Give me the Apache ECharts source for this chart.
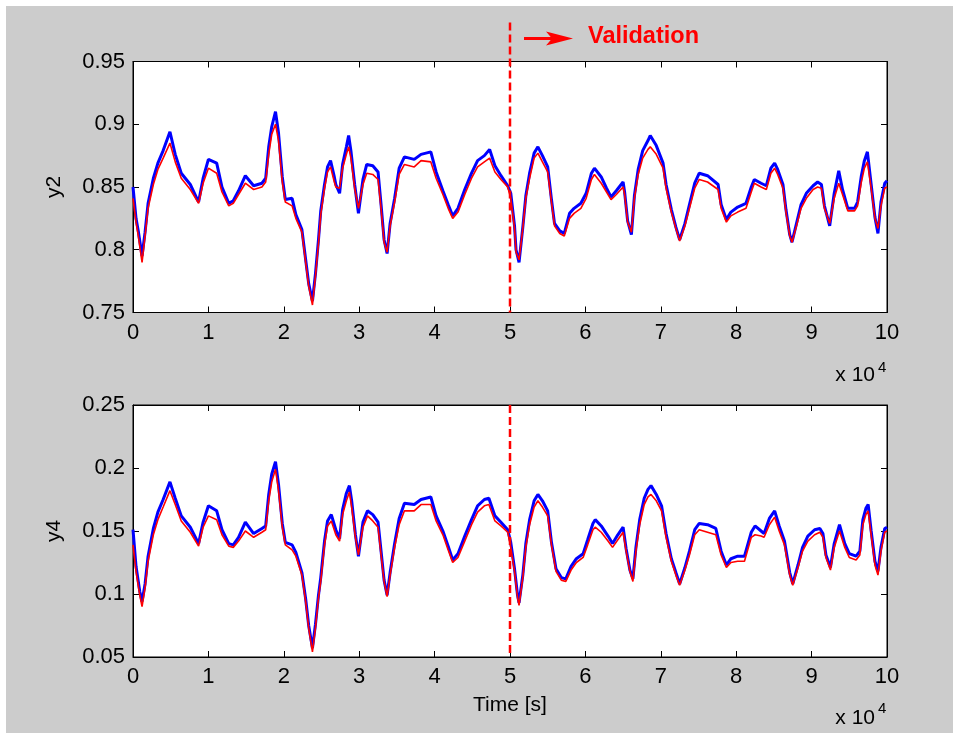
<!DOCTYPE html>
<html>
<head>
<meta charset="utf-8">
<script src="https://cdn.jsdelivr.net/npm/echarts@6/dist/echarts.min.js"></script>
<style>html,body{margin:0;padding:0;background:#fff}#c{width:968px;height:733px}</style>
</head>
<body>
<div id="c"></div>
<script>
// ---------- DATA ----------
const xTickLabels = ['0','1','2','3','4','5','6','7','8','9','10'];
const xScaleLabel = 'x 10';
const xScaleExp = '4';
const validationStart = 50000;
const validationText = 'Validation';
const xAxisName = 'Time [s]';
const y2Name = 'y2';
const y4Name = 'y4';

const y2Time = [
  0,400,700,1200,1600,2000,2700,3300,4000,4900,
  5600,6400,7600,8700,9300,10000,11100,11800,12700,13300,
  14000,14900,16000,17100,17600,18000,18400,18900,19300,19800,
  20200,21100,21600,22400,22900,23300,23800,24200,24600,24900,
  25400,25800,26200,26700,26900,27400,27800,28300,28600,28900,
  29400,29900,30500,31000,31800,32500,32900,33300,33700,34100,
  34700,35300,36000,37300,38200,39500,40200,41100,41800,42400,
  43100,44000,44900,45700,46600,47300,48000,48800,49700,50100,
  50600,50800,51200,51700,52100,52600,53200,53700,54300,55000,
  55500,55900,56600,57200,57900,58500,59400,60100,60800,61200,
  62100,62800,63400,64100,65000,65200,65600,66100,66500,67000,
  67600,68300,68600,69400,70300,70700,71400,72000,72500,73200,
  73800,74500,75100,76200,77600,78000,78700,79300,80200,81300,
  82000,82400,83300,84000,84600,85100,85500,86200,86600,87100,
  87400,88000,88600,89300,90200,90800,91300,91700,92400,93000,
  93600,94100,94800,95700,96100,96600,97000,97400,97900,98400,
  98800,99200,99700,100000
];
const y2Model = [
  0.841,0.822,0.811,0.790,0.811,0.833,0.852,0.864,0.873,0.885,
  0.870,0.857,0.848,0.837,0.853,0.865,0.861,0.846,0.835,0.837,
  0.844,0.853,0.848,0.850,0.854,0.876,0.892,0.900,0.887,0.854,
  0.838,0.835,0.825,0.814,0.790,0.771,0.756,0.779,0.805,0.828,
  0.849,0.862,0.866,0.854,0.850,0.849,0.865,0.876,0.882,0.873,
  0.849,0.833,0.852,0.861,0.860,0.856,0.833,0.806,0.798,0.819,
  0.838,0.860,0.868,0.866,0.871,0.870,0.857,0.844,0.833,0.825,
  0.830,0.844,0.857,0.866,0.870,0.873,0.862,0.856,0.850,0.841,
  0.817,0.798,0.792,0.817,0.841,0.857,0.873,0.877,0.870,0.862,
  0.838,0.819,0.813,0.811,0.825,0.829,0.833,0.841,0.856,0.860,
  0.853,0.846,0.840,0.844,0.850,0.844,0.822,0.814,0.841,0.860,
  0.873,0.880,0.882,0.876,0.865,0.849,0.830,0.817,0.807,0.819,
  0.833,0.849,0.856,0.854,0.848,0.833,0.822,0.827,0.830,0.833,
  0.846,0.853,0.850,0.848,0.861,0.865,0.860,0.849,0.830,0.811,
  0.806,0.819,0.833,0.841,0.848,0.850,0.849,0.833,0.821,0.841,
  0.853,0.844,0.831,0.831,0.835,0.854,0.865,0.870,0.849,0.825,
  0.817,0.835,0.849,0.850
];
const y2Measured = [
  0.850,0.825,0.815,0.795,0.814,0.837,0.857,0.869,0.879,0.894,
  0.876,0.861,0.852,0.838,0.857,0.872,0.869,0.850,0.837,0.839,
  0.847,0.859,0.851,0.853,0.857,0.882,0.898,0.910,0.893,0.858,
  0.840,0.841,0.828,0.816,0.792,0.773,0.759,0.781,0.808,0.831,
  0.852,0.866,0.871,0.858,0.852,0.845,0.868,0.882,0.891,0.879,
  0.852,0.829,0.856,0.868,0.867,0.862,0.836,0.808,0.797,0.821,
  0.841,0.865,0.874,0.872,0.876,0.878,0.862,0.847,0.836,0.827,
  0.833,0.848,0.861,0.871,0.875,0.880,0.867,0.859,0.851,0.845,
  0.819,0.800,0.790,0.818,0.843,0.861,0.877,0.882,0.875,0.866,
  0.840,0.821,0.815,0.813,0.829,0.833,0.837,0.845,0.861,0.865,
  0.858,0.849,0.842,0.847,0.854,0.846,0.823,0.812,0.843,0.864,
  0.879,0.887,0.891,0.883,0.869,0.852,0.832,0.818,0.808,0.821,
  0.836,0.853,0.861,0.859,0.852,0.836,0.824,0.830,0.834,0.837,
  0.850,0.856,0.853,0.851,0.865,0.869,0.864,0.852,0.832,0.812,
  0.806,0.821,0.836,0.845,0.851,0.854,0.852,0.835,0.819,0.845,
  0.863,0.848,0.833,0.833,0.838,0.859,0.871,0.878,0.852,0.826,
  0.813,0.838,0.853,0.855
];

const y4Time = [
  0,400,900,1200,1600,2000,2700,3300,4000,4900,
  5600,6400,7600,8700,9300,10000,11100,11800,12700,13300,
  14000,14900,16000,17100,17600,18000,18400,18900,19300,19800,
  20200,21100,21600,22400,22900,23300,23800,24200,24600,24900,
  25400,25800,26300,26900,27400,27800,28300,28700,29000,29500,
  29900,30500,31100,31800,32500,32900,33300,33700,34100,34700,
  35300,36000,37300,38200,39500,40200,41100,41800,42400,43100,
  44000,44900,45700,46600,47200,48000,48800,49700,50100,50600,
  51000,51200,51700,52100,52600,53200,53700,54300,55000,55500,
  56100,56800,57400,58100,58800,59700,60300,61000,61300,62100,
  63000,63600,64300,65000,65400,65900,66300,66700,67200,67800,
  68300,68700,69400,70100,70700,71400,72000,72500,73200,73800,
  74500,75100,76200,77300,78000,78700,79300,80200,81100,82000,
  82500,83300,83700,84400,85100,85700,86400,87100,87500,88200,
  88800,89500,90400,91100,91500,91900,92500,93000,93700,94400,
  95000,95900,96400,96800,97200,97500,97900,98400,98800,99200,
  99700,100000
];
const y4Model = [
  0.139,0.118,0.099,0.090,0.105,0.126,0.147,0.159,0.169,0.182,
  0.171,0.158,0.149,0.138,0.153,0.162,0.159,0.147,0.138,0.137,
  0.142,0.150,0.145,0.149,0.151,0.174,0.189,0.199,0.182,0.153,
  0.139,0.135,0.130,0.115,0.094,0.073,0.054,0.073,0.097,0.110,
  0.139,0.154,0.158,0.147,0.142,0.163,0.174,0.181,0.169,0.145,
  0.131,0.153,0.162,0.158,0.153,0.131,0.110,0.098,0.115,0.137,
  0.155,0.166,0.166,0.171,0.171,0.158,0.147,0.135,0.125,0.129,
  0.142,0.155,0.165,0.170,0.171,0.158,0.154,0.149,0.137,0.118,
  0.097,0.091,0.113,0.137,0.155,0.169,0.174,0.169,0.162,0.139,
  0.118,0.111,0.110,0.119,0.125,0.129,0.139,0.151,0.153,0.149,
  0.142,0.137,0.143,0.149,0.134,0.118,0.110,0.134,0.155,0.171,
  0.177,0.179,0.174,0.166,0.145,0.126,0.115,0.107,0.119,0.131,
  0.147,0.151,0.149,0.147,0.131,0.121,0.125,0.126,0.126,0.145,
  0.147,0.146,0.145,0.155,0.161,0.150,0.139,0.115,0.107,0.121,
  0.134,0.142,0.147,0.149,0.145,0.129,0.119,0.137,0.150,0.137,
  0.129,0.127,0.131,0.155,0.163,0.166,0.147,0.123,0.115,0.134,
  0.149,0.150
];
const y4Measured = [
  0.151,0.122,0.102,0.094,0.108,0.130,0.152,0.165,0.175,0.189,
  0.176,0.162,0.153,0.140,0.157,0.170,0.166,0.151,0.140,0.139,
  0.145,0.157,0.148,0.152,0.154,0.179,0.195,0.205,0.187,0.156,
  0.141,0.139,0.133,0.117,0.096,0.075,0.057,0.076,0.099,0.113,
  0.142,0.158,0.163,0.151,0.144,0.167,0.180,0.186,0.174,0.147,
  0.130,0.157,0.166,0.163,0.157,0.134,0.111,0.099,0.117,0.140,
  0.160,0.172,0.171,0.175,0.177,0.162,0.150,0.138,0.127,0.132,
  0.146,0.159,0.170,0.175,0.176,0.162,0.157,0.151,0.141,0.120,
  0.099,0.093,0.115,0.140,0.159,0.174,0.179,0.174,0.166,0.141,
  0.120,0.113,0.112,0.122,0.128,0.132,0.143,0.156,0.159,0.154,
  0.146,0.140,0.147,0.153,0.136,0.119,0.112,0.137,0.159,0.176,
  0.183,0.186,0.179,0.170,0.148,0.128,0.117,0.108,0.121,0.134,
  0.151,0.156,0.155,0.152,0.134,0.123,0.128,0.130,0.130,0.149,
  0.154,0.150,0.148,0.160,0.166,0.154,0.142,0.117,0.108,0.123,
  0.137,0.146,0.151,0.152,0.148,0.131,0.121,0.140,0.155,0.140,
  0.132,0.130,0.134,0.159,0.168,0.171,0.150,0.126,0.118,0.137,
  0.152,0.153
];

// ---------- CHART ----------
const FONT = '"Liberation Sans", Arial, Helvetica, sans-serif';
const pair = (t, v) => t.map((x, i) => [x, v[i]]).filter(p => p[1] !== undefined);

function xAxes(g) {
  const base = {
    gridIndex: g, type: 'value', min: 0, max: 100000, interval: 10000,
    axisLine: { show: true, onZero: false, lineStyle: { color: '#000', width: 1 } },
    axisTick: { show: true, inside: true, length: 6, lineStyle: { color: '#000' } },
    splitLine: { show: false }
  };
  return [
    Object.assign({}, base, {
      position: 'bottom',
      axisLabel: { show: true, margin: 9, fontSize: 22, color: '#000', fontFamily: FONT,
        formatter: v => xTickLabels[Math.round(v / 10000)] },
      name: g === 1 ? xAxisName : '', nameLocation: 'middle', nameGap: 38,
      nameTextStyle: { fontSize: 21, color: '#000', fontFamily: FONT }
    }),
    Object.assign({}, base, { position: 'top', axisLabel: { show: false } })
  ];
}
function yAxes(g, min, max, name) {
  const base = {
    gridIndex: g, type: 'value', min: min, max: max, interval: 0.05,
    axisLine: { show: true, onZero: false, lineStyle: { color: '#000', width: 1 } },
    axisTick: { show: true, inside: true, length: 6, lineStyle: { color: '#000' } },
    splitLine: { show: false }
  };
  return [
    Object.assign({}, base, {
      position: 'left',
      axisLabel: { show: true, margin: 8, fontSize: 22, color: '#000', fontFamily: FONT,
        formatter: v => String(+v.toFixed(2)) },
      name: name, nameLocation: 'middle', nameGap: 68,
      nameTextStyle: { fontSize: 21, color: '#000', fontFamily: FONT }
    }),
    Object.assign({}, base, { position: 'right', axisLabel: { show: false } })
  ];
}

const chart = echarts.init(document.getElementById('c'), null, { renderer: 'canvas' });
const option = {
  animation: false,
  backgroundColor: '#cccccc',
  grid: [
    { left: 133, right: 81, top: 61.5, height: 251, show: true, backgroundColor: '#fff', borderColor: '#000', borderWidth: 1 },
    { left: 133, right: 81, top: 405, height: 252, show: true, backgroundColor: '#fff', borderColor: '#000', borderWidth: 1 }
  ],
  xAxis: [].concat(xAxes(0), xAxes(1)),
  yAxis: [].concat(yAxes(0, 0.75, 0.95, y2Name), yAxes(1, 0.05, 0.25, y4Name)),
  series: [
    { type: 'line', xAxisIndex: 0, yAxisIndex: 0, data: pair(y2Time, y2Measured), showSymbol: false,
      lineStyle: { color: '#0000ff', width: 3 }, itemStyle: { color: '#0000ff' }, z: 2 },
    { type: 'line', xAxisIndex: 0, yAxisIndex: 0, data: pair(y2Time, y2Model), showSymbol: false,
      lineStyle: { color: '#ff0000', width: 1.6 }, itemStyle: { color: '#ff0000' }, z: 3 },
    { type: 'line', xAxisIndex: 2, yAxisIndex: 2, data: pair(y4Time, y4Measured), showSymbol: false,
      lineStyle: { color: '#0000ff', width: 3 }, itemStyle: { color: '#0000ff' }, z: 2 },
    { type: 'line', xAxisIndex: 2, yAxisIndex: 2, data: pair(y4Time, y4Model), showSymbol: false,
      lineStyle: { color: '#ff0000', width: 1.6 }, itemStyle: { color: '#ff0000' }, z: 3 }
  ]
};
chart.setOption(option);

// annotations positioned through the axes
const pTopB = chart.convertToPixel({ gridIndex: 0 }, [validationStart, 0.75]);
const pTopT = chart.convertToPixel({ gridIndex: 0 }, [validationStart, 0.95]);
const pBotB = chart.convertToPixel({ gridIndex: 1 }, [validationStart, 0.05]);
const pBotT = chart.convertToPixel({ gridIndex: 1 }, [validationStart, 0.25]);
const rTop = chart.convertToPixel({ gridIndex: 0 }, [100000, 0.75]);
const rBot = chart.convertToPixel({ gridIndex: 1 }, [100000, 0.05]);
const vx = pTopB[0];
const dash = { stroke: '#ff0000', lineWidth: 2.5, lineDash: [8, 4] };

chart.setOption({
  graphic: [
    { type: 'rect', shape: { x: 0, y: 0, width: 968, height: 6 }, style: { fill: '#fff' }, silent: true },
    { type: 'rect', shape: { x: 0, y: 0, width: 6, height: 733 }, style: { fill: '#fff' }, silent: true },
    { type: 'rect', shape: { x: 953, y: 0, width: 15, height: 733 }, style: { fill: '#fff' }, silent: true },
    { type: 'line', shape: { x1: vx, y1: pTopT[1] - 39, x2: vx, y2: pTopB[1] }, style: dash, z: 10 },
    { type: 'line', shape: { x1: vx, y1: pBotT[1], x2: vx, y2: pBotB[1] }, style: dash, z: 10 },
    { type: 'line', shape: { x1: vx + 14, y1: pTopT[1] - 23, x2: vx + 44, y2: pTopT[1] - 23 },
      style: { stroke: '#ff0000', lineWidth: 3 }, z: 10 },
    { type: 'polygon', shape: { points: [[vx + 36, pTopT[1] - 30], [vx + 42, pTopT[1] - 23], [vx + 36, pTopT[1] - 16], [vx + 63, pTopT[1] - 23]] },
      style: { fill: '#ff0000' }, z: 10 },
    { type: 'text', x: vx + 78, y: pTopT[1] - 25,
      style: { text: validationText, fill: '#ff0000', font: 'bold 23.5px ' + FONT, textAlign: 'left', textVerticalAlign: 'middle' }, z: 10 },
    { type: 'text', x: rTop[0] - 12, y: rTop[1] + 63,
      style: { text: xScaleLabel, fill: '#000', font: '21px ' + FONT, textAlign: 'right', textVerticalAlign: 'middle' }, z: 10 },
    { type: 'text', x: rTop[0] - 9, y: rTop[1] + 55,
      style: { text: xScaleExp, fill: '#000', font: '15px ' + FONT, textAlign: 'left', textVerticalAlign: 'middle' }, z: 10 },
    { type: 'text', x: rBot[0] - 12, y: rBot[1] + 61,
      style: { text: xScaleLabel, fill: '#000', font: '21px ' + FONT, textAlign: 'right', textVerticalAlign: 'middle' }, z: 10 },
    { type: 'text', x: rBot[0] - 9, y: rBot[1] + 52,
      style: { text: xScaleExp, fill: '#000', font: '15px ' + FONT, textAlign: 'left', textVerticalAlign: 'middle' }, z: 10 }
  ]
});
</script>
</body>
</html>
